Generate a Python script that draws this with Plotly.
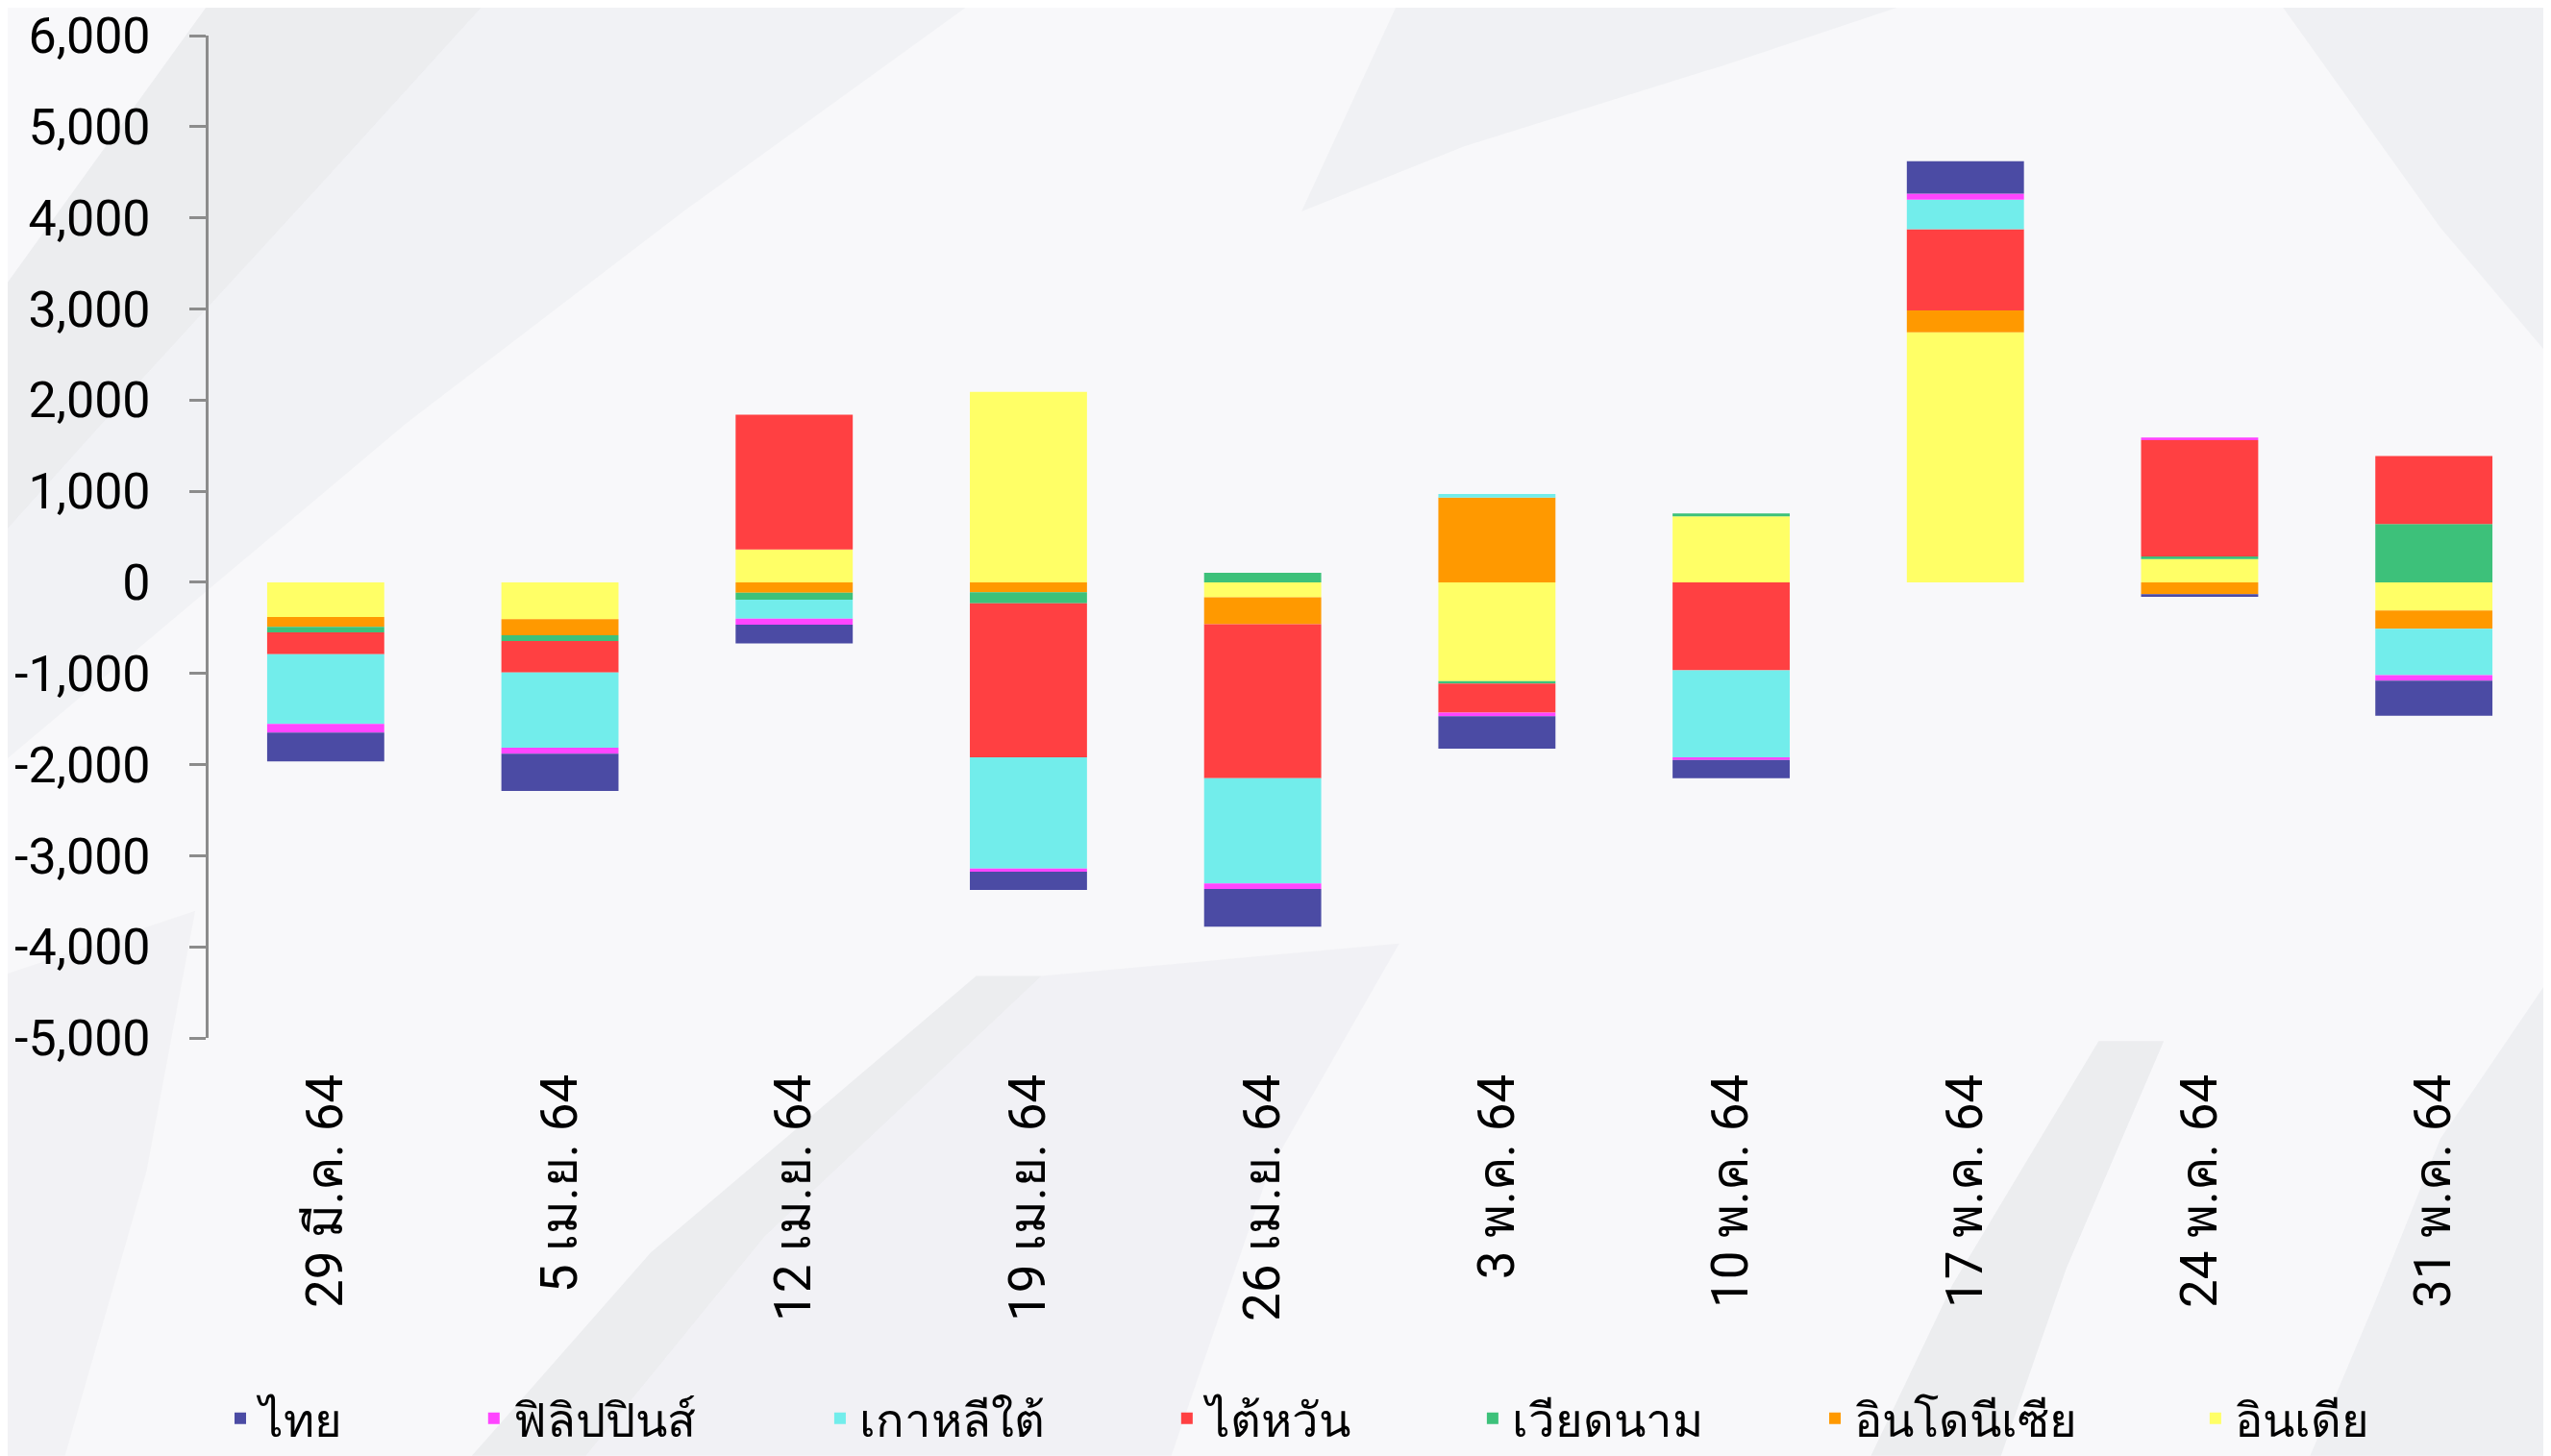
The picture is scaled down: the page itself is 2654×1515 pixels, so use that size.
import plotly.graph_objects as go

categories = ["29 มี.ค. 64", "5 เม.ย. 64", "12 เม.ย. 64", "19 เม.ย. 64", "26 เม.ย. 64",
              "3 พ.ค. 64", "10 พ.ค. 64", "17 พ.ค. 64", "24 พ.ค. 64", "31 พ.ค. 64"]

india       = [-380, -405,   360,  2090,  -165, -1085,   725,  2745,   255,  -310]
indonesia   = [-110, -175,  -115,  -110,  -295,   930,     0,   240,  -130,  -200]
vietnam     = [ -60,  -65,   -75,  -120,   105,   -25,    30,     0,    30,   640]
taiwan      = [-240, -345,  1480, -1690, -1690,  -320,  -965,   890,  1275,   745]
korea       = [-765, -825,  -210, -1220, -1155,    40,  -955,   325,     0,  -510]
philippines = [ -95,  -65,   -65,   -35,   -60,   -40,   -30,    65,    30,   -60]
thailand    = [-315, -410,  -205,  -200,  -415,  -355,  -200,   355,   -30,  -385]

series_names = ["อินเดีย", "อินโดนีเซีย", "เวียดนาม", "ไต้หวัน", "เกาหลีใต้", "ฟิลิปปินส์", "ไทย"]
series_values = [india, indonesia, vietnam, taiwan, korea, philippines, thailand]
series_colors = ["#FFFF66", "#FF9900", "#3DC17A", "#FF4042", "#72EDEB", "#FF45FF", "#4B4BA4"]

y_ticks = list(range(-5000, 6001, 1000))
y_ticklabels = [f"{v:,}" for v in y_ticks]

# page has an 8px body margin: figure is drawn 8px right/down of the window corner
OFF = 8
W, H = 2654 - OFF, 1515 - OFF
ML, MR, MT, MB = 217 - OFF, 0, 37 - OFF, 435
PW, PH = W - ML - MR, H - MT - MB

FONT = "Roboto, 'Noto Sans', 'DejaVu Sans', sans-serif"

# legend positions (container fractions), Thai first ... India last
LSHIFT = 0.0064
legend_x = {"ไทย": 0.0775, "ฟิลิปปินส์": 0.1772, "เกาหลีใต้": 0.3133, "ไต้หวัน": 0.4497,
            "เวียดนาม": 0.5699, "อินโดนีเซีย": 0.7045, "อินเดีย": 0.8541}

fig = go.Figure()
legend_layout = {}
for i, (name, vals, col) in enumerate(zip(series_names, series_values, series_colors)):
    key = "legend" if i == 0 else f"legend{i + 1}"
    fig.add_trace(go.Bar(x=categories, y=vals, name=name, marker=dict(color=col, line=dict(width=0)),
                         legend=key, showlegend=True))
    legend_layout[key] = dict(orientation="h", xref="container", yref="container",
                              x=legend_x[name] + LSHIFT, xanchor="left", y=0.026, yanchor="middle",
                              bgcolor="rgba(0,0,0,0)", borderwidth=0,
                              font=dict(family=FONT, size=49, color="#000000"))


def P(px, py):
    # px, py in reference display units (1568x895)
    fx, fy = px * 1.6926 - OFF, py * 1.6926 - OFF
    return (fx - ML) / PW, (H - MB - fy) / PH


def path(points):
    pts = [P(x, y) for x, y in points]
    return "M " + " L ".join(f"{a:.4f},{b:.4f}" for a, b in pts) + " Z"


bg_shapes = []
decor = [
    ([(130, 0), (300, 0), (200, 110), (90, 230), (0, 330), (0, 180)], "rgba(200,204,210,0.26)"),
    ([(300, 0), (600, 0), (420, 130), (250, 260), (0, 470), (0, 330), (90, 230), (200, 110)],
     "rgba(220,223,228,0.22)"),
    ([(860, 0), (1180, 0), (1060, 40), (900, 90), (800, 130)], "rgba(210,213,219,0.20)"),
    ([(1400, 0), (1568, 0), (1568, 220), (1500, 140)], "rgba(210,213,219,0.22)"),
    ([(290, 895), (360, 895), (470, 760), (640, 600), (600, 600), (400, 770)], "rgba(200,204,210,0.26)"),
    ([(360, 895), (720, 895), (780, 720), (860, 580), (640, 600), (470, 760)], "rgba(220,223,228,0.24)"),
    ([(1150, 895), (1230, 895), (1270, 780), (1330, 640), (1290, 640), (1200, 790)], "rgba(200,204,210,0.26)"),
    ([(1420, 895), (1568, 895), (1568, 600), (1500, 700), (1460, 800)], "rgba(210,213,219,0.26)"),
    ([(0, 600), (120, 560), (90, 720), (40, 895), (0, 895)], "rgba(225,227,232,0.24)"),
]
for pts, col in decor:
    bg_shapes.append(dict(type="path", xref="paper", yref="paper", path=path(pts),
                          fillcolor=col, line=dict(width=0), layer="below"))

fig.update_layout(
    width=W, height=H,
    margin=dict(l=ML, r=MR, t=MT, b=MB, autoexpand=False),
    barmode="relative", bargap=0.5,
    paper_bgcolor="#F8F8FA", plot_bgcolor="rgba(0,0,0,0)",
    showlegend=True,
    font=dict(family=FONT, size=46, color="#000000"),
    xaxis=dict(type="category", range=[-0.5, 9.5], showline=False, ticks="", showgrid=False,
               zeroline=False, tickangle=-90, tickfont=dict(family=FONT, size=53, color="#000000"),
               ticklabelstandoff=26),
    xaxis2=dict(overlaying="x", anchor="free", position=5 / 11, range=[-0.5, 9.5],
                tickmode="array", tickvals=[k + 0.5 for k in range(len(categories))],
                showticklabels=False, ticks="outside", ticklen=16, tickwidth=3, tickcolor="#8C8C8C",
                showline=True, linecolor="#8C8C8C", linewidth=3, showgrid=False, zeroline=False),
    yaxis=dict(range=[-5000, 6000], tickmode="array", tickvals=y_ticks, ticktext=y_ticklabels,
               showline=True, linecolor="#8C8C8C", linewidth=3, ticks="outside", ticklen=17,
               tickwidth=3, tickcolor="#8C8C8C", showgrid=False, zeroline=False,
               ticklabeloverflow="allow",
               tickfont=dict(family=FONT, size=52, color="#000000"), ticklabelstandoff=30),
    shapes=bg_shapes,
    **legend_layout,
)

fig.write_html("out.html")
